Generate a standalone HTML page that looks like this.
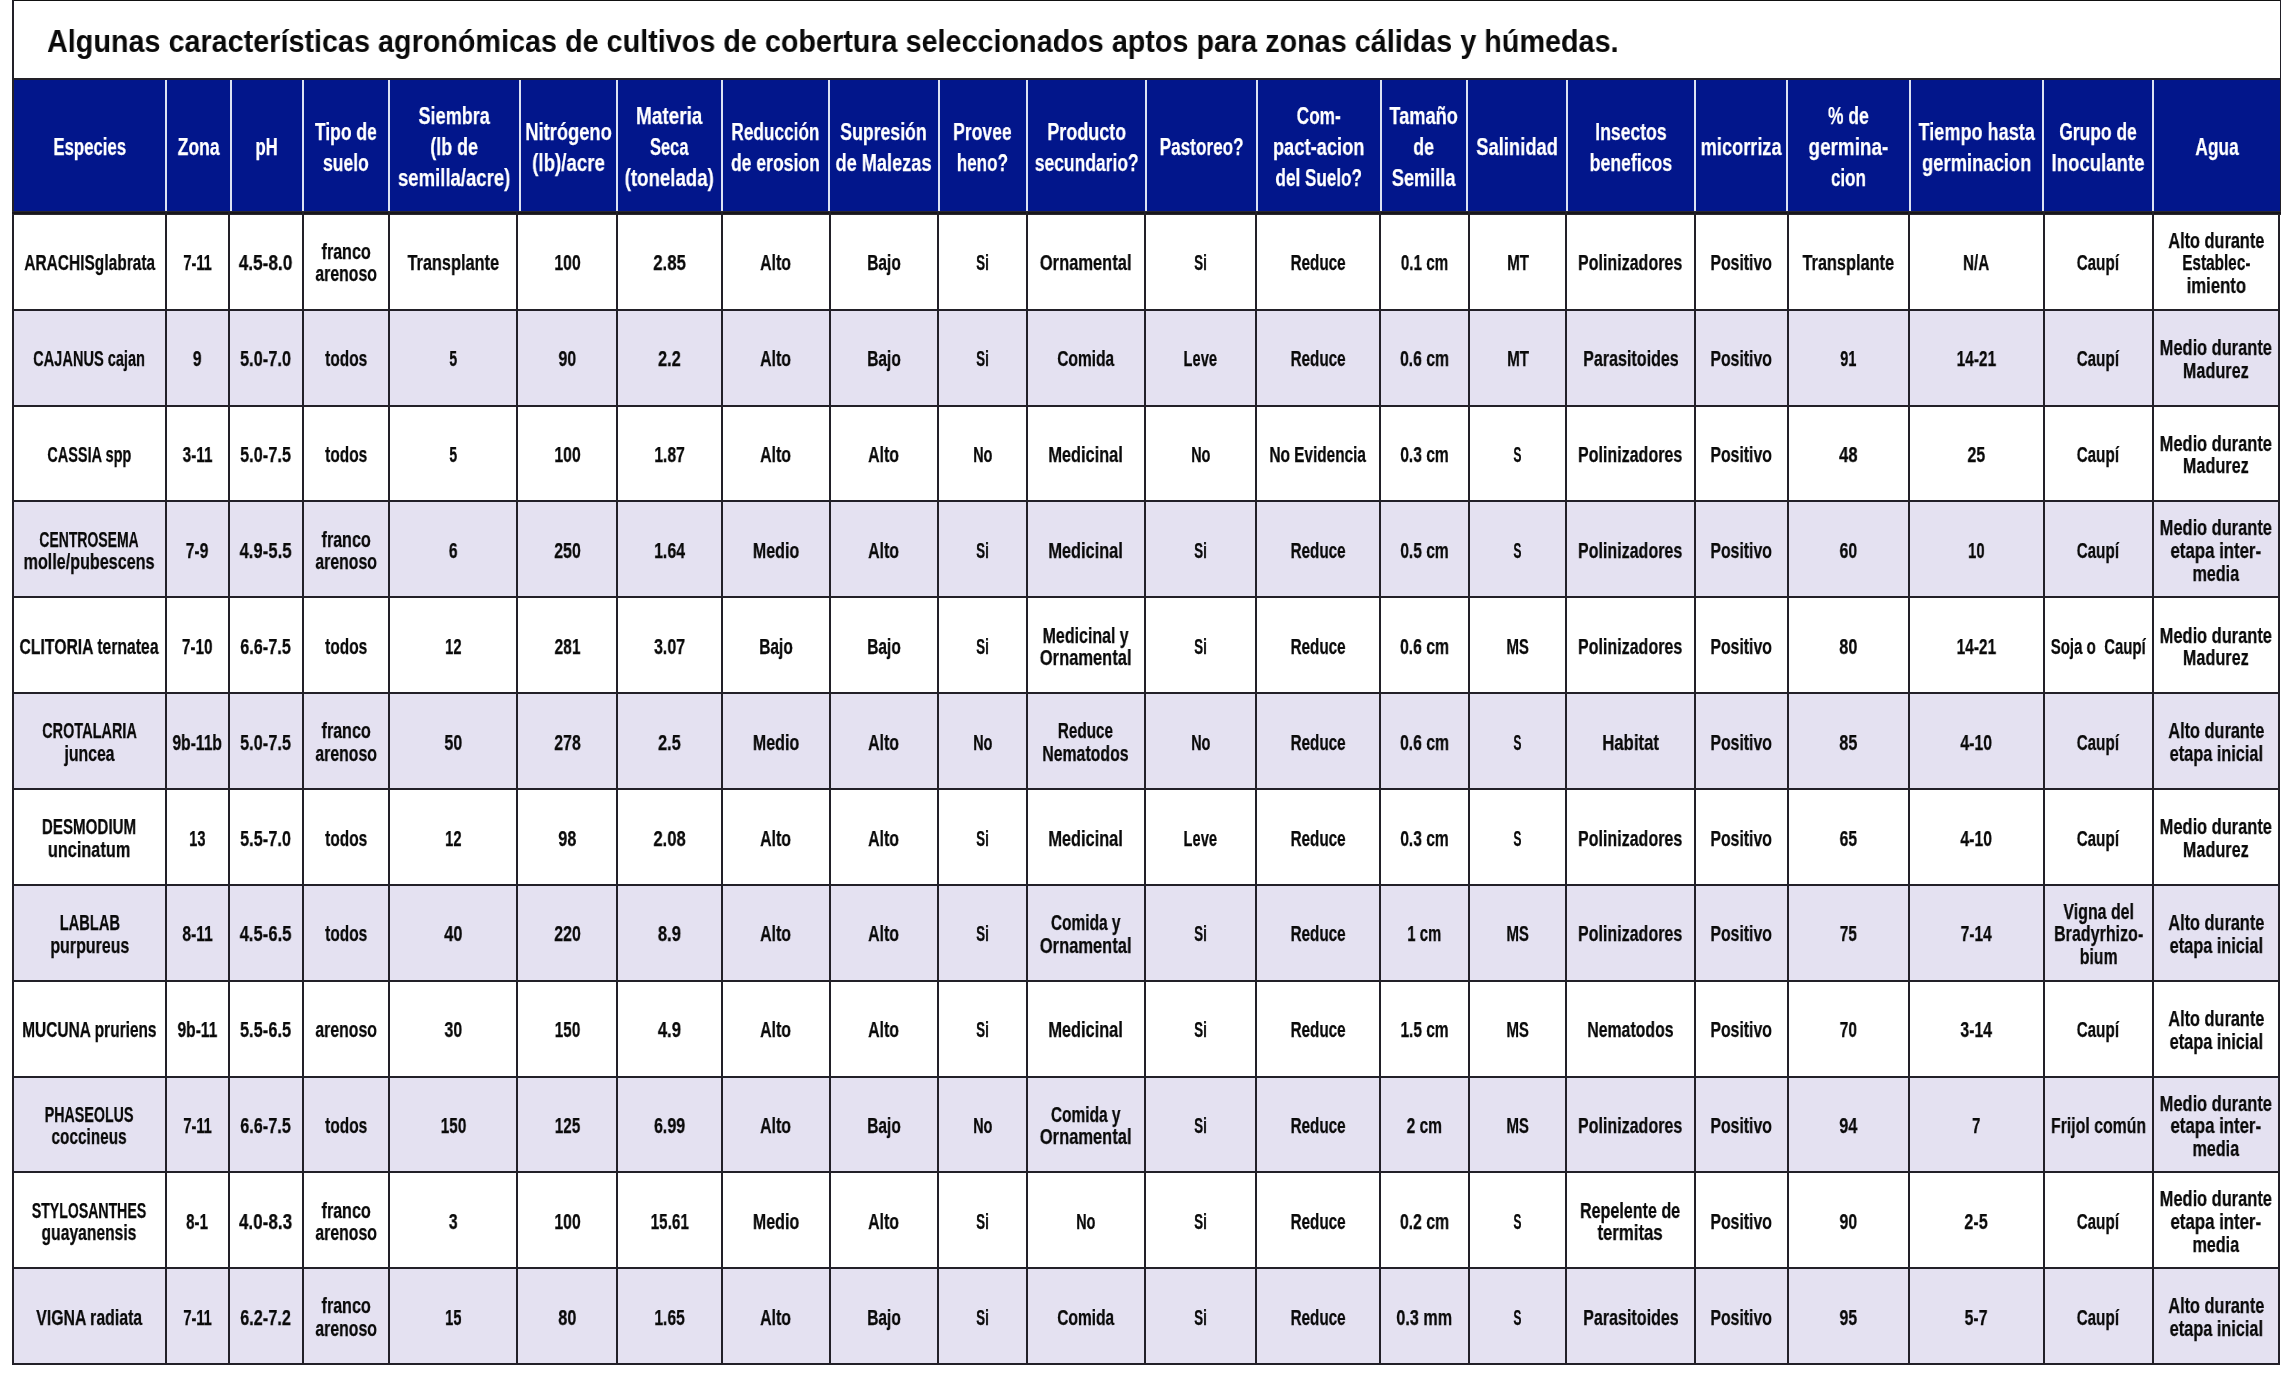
<!DOCTYPE html>
<html><head><meta charset="utf-8"><title>Cultivos de cobertura</title>
<style>
html,body{margin:0;padding:0;background:#fff;}
body{width:2291px;height:1376px;position:relative;overflow:hidden;font-family:"Liberation Sans",sans-serif;}
.a{position:absolute;}
.ln{position:absolute;background:#222028;}
.wl{position:absolute;background:#dce2f3;}
.c{position:absolute;display:flex;align-items:center;justify-content:center;}
.t{display:block;will-change:transform;-webkit-text-stroke:0.25px currentColor;white-space:nowrap;text-align:center;font-weight:bold;}
.b .t{font-size:22.2px;line-height:22.6px;color:#0a0a0a;}
.h .t{font-size:24.8px;line-height:31.2px;color:#fff;}
.title{position:absolute;will-change:transform;left:47px;top:21.2px;font-size:31.6px;font-weight:bold;white-space:nowrap;transform-origin:0 0;transform:scaleX(0.9105);color:#0a0a0a;line-height:40px;}
</style></head><body>

<div class="title">Algunas características agronómicas de cultivos de cobertura seleccionados aptos para zonas cálidas y húmedas.</div>
<div class="a" style="left:13px;top:80px;width:2267px;height:131px;background:#02168b"></div>
<div class="a" style="left:13px;top:309.8px;width:2266px;height:95.9px;background:#e4e1f1"></div>
<div class="a" style="left:13px;top:501.4px;width:2266px;height:95.8px;background:#e4e1f1"></div>
<div class="a" style="left:13px;top:693.1px;width:2266px;height:95.9px;background:#e4e1f1"></div>
<div class="a" style="left:13px;top:884.8px;width:2266px;height:95.9px;background:#e4e1f1"></div>
<div class="a" style="left:13px;top:1076.5px;width:2266px;height:95.9px;background:#e4e1f1"></div>
<div class="a" style="left:13px;top:1268.2px;width:2266px;height:95.8px;background:#e4e1f1"></div>
<div class="wl" style="left:164.7px;top:80px;width:2px;height:131px"></div>
<div class="wl" style="left:229.8px;top:80px;width:2px;height:131px"></div>
<div class="wl" style="left:301.9px;top:80px;width:2px;height:131px"></div>
<div class="wl" style="left:387.9px;top:80px;width:2px;height:131px"></div>
<div class="wl" style="left:518.6px;top:80px;width:2px;height:131px"></div>
<div class="wl" style="left:616.1px;top:80px;width:2px;height:131px"></div>
<div class="wl" style="left:720.8px;top:80px;width:2px;height:131px"></div>
<div class="wl" style="left:827.9px;top:80px;width:2px;height:131px"></div>
<div class="wl" style="left:937.5px;top:80px;width:2px;height:131px"></div>
<div class="wl" style="left:1026.0px;top:80px;width:2px;height:131px"></div>
<div class="wl" style="left:1144.5px;top:80px;width:2px;height:131px"></div>
<div class="wl" style="left:1256.3px;top:80px;width:2px;height:131px"></div>
<div class="wl" style="left:1379.5px;top:80px;width:2px;height:131px"></div>
<div class="wl" style="left:1465.8px;top:80px;width:2px;height:131px"></div>
<div class="wl" style="left:1565.8px;top:80px;width:2px;height:131px"></div>
<div class="wl" style="left:1693.8px;top:80px;width:2px;height:131px"></div>
<div class="wl" style="left:1786.0px;top:80px;width:2px;height:131px"></div>
<div class="wl" style="left:1909.0px;top:80px;width:2px;height:131px"></div>
<div class="wl" style="left:2041.9px;top:80px;width:2px;height:131px"></div>
<div class="wl" style="left:2152.2px;top:80px;width:2px;height:131px"></div>
<div class="ln" style="left:12px;top:0;width:2269px;height:1px;background:#111"></div>
<div class="ln" style="left:12px;top:0;width:2px;height:1365px"></div>
<div class="ln" style="left:2280px;top:0;width:1px;height:215px"></div>
<div class="ln" style="left:2278px;top:212px;width:2px;height:1153px"></div>
<div class="ln" style="left:12px;top:78px;width:2269px;height:2px"></div>
<div class="ln" style="left:12px;top:211px;width:2269px;height:4px;background:#2a282e"></div>
<div class="ln" style="left:12px;top:212px;width:2269px;height:2px;background:#18161c"></div>
<div class="ln" style="left:12px;top:309px;width:2268px;height:2px"></div>
<div class="ln" style="left:12px;top:405px;width:2268px;height:2px"></div>
<div class="ln" style="left:12px;top:500px;width:2268px;height:2px"></div>
<div class="ln" style="left:12px;top:596px;width:2268px;height:2px"></div>
<div class="ln" style="left:12px;top:692px;width:2268px;height:2px"></div>
<div class="ln" style="left:12px;top:788px;width:2268px;height:2px"></div>
<div class="ln" style="left:12px;top:884px;width:2268px;height:2px"></div>
<div class="ln" style="left:12px;top:980px;width:2268px;height:2px"></div>
<div class="ln" style="left:12px;top:1076px;width:2268px;height:2px"></div>
<div class="ln" style="left:12px;top:1171px;width:2268px;height:2px"></div>
<div class="ln" style="left:12px;top:1267px;width:2268px;height:2px"></div>
<div class="ln" style="left:12px;top:1363px;width:2268px;height:2px"></div>
<div class="ln" style="left:164.8px;top:212px;width:2px;height:1152px"></div>
<div class="ln" style="left:227.7px;top:212px;width:2px;height:1152px"></div>
<div class="ln" style="left:301.9px;top:212px;width:2px;height:1152px"></div>
<div class="ln" style="left:387.9px;top:212px;width:2px;height:1152px"></div>
<div class="ln" style="left:516.4px;top:212px;width:2px;height:1152px"></div>
<div class="ln" style="left:616.1px;top:212px;width:2px;height:1152px"></div>
<div class="ln" style="left:721.4px;top:212px;width:2px;height:1152px"></div>
<div class="ln" style="left:828.7px;top:212px;width:2px;height:1152px"></div>
<div class="ln" style="left:936.7px;top:212px;width:2px;height:1152px"></div>
<div class="ln" style="left:1026.0px;top:212px;width:2px;height:1152px"></div>
<div class="ln" style="left:1143.7px;top:212px;width:2px;height:1152px"></div>
<div class="ln" style="left:1255.0px;top:212px;width:2px;height:1152px"></div>
<div class="ln" style="left:1379.0px;top:212px;width:2px;height:1152px"></div>
<div class="ln" style="left:1467.9px;top:212px;width:2px;height:1152px"></div>
<div class="ln" style="left:1565.2px;top:212px;width:2px;height:1152px"></div>
<div class="ln" style="left:1693.8px;top:212px;width:2px;height:1152px"></div>
<div class="ln" style="left:1786.7px;top:212px;width:2px;height:1152px"></div>
<div class="ln" style="left:1908.0px;top:212px;width:2px;height:1152px"></div>
<div class="ln" style="left:2042.5px;top:212px;width:2px;height:1152px"></div>
<div class="ln" style="left:2152.0px;top:212px;width:2px;height:1152px"></div>
<div class="c h" style="left:14.0px;top:81.3px;width:150.7px;height:131.0px"><div><span class="t" style="transform:scaleX(0.6761)">Especies</span></div></div>
<div class="c h" style="left:166.7px;top:81.3px;width:63.1px;height:131.0px"><div><span class="t" style="transform:scaleX(0.7068)">Zona</span></div></div>
<div class="c h" style="left:231.8px;top:81.3px;width:70.1px;height:131.0px"><div><span class="t" style="transform:scaleX(0.6715)">pH</span></div></div>
<div class="c h" style="left:303.9px;top:81.3px;width:84.0px;height:131.0px"><div><span class="t" style="transform:scaleX(0.7045)">Tipo de</span><span class="t" style="transform:scaleX(0.7070)">suelo</span></div></div>
<div class="c h" style="left:389.9px;top:81.3px;width:128.7px;height:131.0px"><div><span class="t" style="transform:scaleX(0.7293)">Siembra</span><span class="t" style="transform:scaleX(0.7212)">(lb de</span><span class="t" style="transform:scaleX(0.7479)">semilla/acre)</span></div></div>
<div class="c h" style="left:520.6px;top:81.3px;width:95.5px;height:131.0px"><div><span class="t" style="transform:scaleX(0.7386)">Nitrógeno</span><span class="t" style="transform:scaleX(0.7546)">(lb)/acre</span></div></div>
<div class="c h" style="left:618.1px;top:81.3px;width:102.7px;height:131.0px"><div><span class="t" style="transform:scaleX(0.7644)">Materia</span><span class="t" style="transform:scaleX(0.6629)">Seca</span><span class="t" style="transform:scaleX(0.7519)">(tonelada)</span></div></div>
<div class="c h" style="left:722.8px;top:81.3px;width:105.1px;height:131.0px"><div><span class="t" style="transform:scaleX(0.6957)">Reducción</span><span class="t" style="transform:scaleX(0.7089)">de erosion</span></div></div>
<div class="c h" style="left:829.9px;top:81.3px;width:107.6px;height:131.0px"><div><span class="t" style="transform:scaleX(0.7124)">Supresión</span><span class="t" style="transform:scaleX(0.7324)">de Malezas</span></div></div>
<div class="c h" style="left:939.5px;top:81.3px;width:86.5px;height:131.0px"><div><span class="t" style="transform:scaleX(0.7085)">Provee</span><span class="t" style="transform:scaleX(0.6868)">heno?</span></div></div>
<div class="c h" style="left:1028.0px;top:81.3px;width:116.5px;height:131.0px"><div><span class="t" style="transform:scaleX(0.7240)">Producto</span><span class="t" style="transform:scaleX(0.7039)">secundario?</span></div></div>
<div class="c h" style="left:1146.5px;top:81.3px;width:109.8px;height:131.0px"><div><span class="t" style="transform:scaleX(0.6918)">Pastoreo?</span></div></div>
<div class="c h" style="left:1258.3px;top:81.3px;width:121.2px;height:131.0px"><div><span class="t" style="transform:scaleX(0.6960)">Com-</span><span class="t" style="transform:scaleX(0.7386)">pact-acion</span><span class="t" style="transform:scaleX(0.6899)">del Suelo?</span></div></div>
<div class="c h" style="left:1381.5px;top:81.3px;width:84.3px;height:131.0px"><div><span class="t" style="transform:scaleX(0.7346)">Tamaño</span><span class="t" style="transform:scaleX(0.7256)">de</span><span class="t" style="transform:scaleX(0.7331)">Semilla</span></div></div>
<div class="c h" style="left:1467.8px;top:81.3px;width:98.0px;height:131.0px"><div><span class="t" style="transform:scaleX(0.7420)">Salinidad</span></div></div>
<div class="c h" style="left:1567.8px;top:81.3px;width:126.0px;height:131.0px"><div><span class="t" style="transform:scaleX(0.7077)">Insectos</span><span class="t" style="transform:scaleX(0.7118)">beneficos</span></div></div>
<div class="c h" style="left:1695.8px;top:81.3px;width:90.2px;height:131.0px"><div><span class="t" style="transform:scaleX(0.7335)">micorriza</span></div></div>
<div class="c h" style="left:1788.0px;top:81.3px;width:121.0px;height:131.0px"><div><span class="t" style="transform:scaleX(0.7049)">% de</span><span class="t" style="transform:scaleX(0.7610)">germina-</span><span class="t" style="transform:scaleX(0.6864)">cion</span></div></div>
<div class="c h" style="left:1911.0px;top:81.3px;width:130.9px;height:131.0px"><div><span class="t" style="transform:scaleX(0.7300)">Tiempo hasta</span><span class="t" style="transform:scaleX(0.7426)">germinacion</span></div></div>
<div class="c h" style="left:2043.9px;top:81.3px;width:108.3px;height:131.0px"><div><span class="t" style="transform:scaleX(0.7041)">Grupo de</span><span class="t" style="transform:scaleX(0.7490)">Inoculante</span></div></div>
<div class="c h" style="left:2154.2px;top:81.3px;width:124.8px;height:131.0px"><div><span class="t" style="transform:scaleX(0.6997)">Agua</span></div></div>
<div class="c b" style="left:14.0px;top:216.0px;width:150.8px;height:94.8px"><div><span class="t" style="transform:scaleX(0.6986)">ARACHISglabrata</span></div></div>
<div class="c b" style="left:166.8px;top:216.0px;width:60.9px;height:94.8px"><div><span class="t" style="transform:scaleX(0.6574)">7-11</span></div></div>
<div class="c b" style="left:229.7px;top:216.0px;width:72.2px;height:94.8px"><div><span class="t" style="transform:scaleX(0.7770)">4.5-8.0</span></div></div>
<div class="c b" style="left:303.9px;top:216.0px;width:84.0px;height:94.8px"><div><span class="t" style="transform:scaleX(0.7267)">franco</span><span class="t" style="transform:scaleX(0.7122)">arenoso</span></div></div>
<div class="c b" style="left:389.9px;top:216.0px;width:126.5px;height:94.8px"><div><span class="t" style="transform:scaleX(0.7351)">Transplante</span></div></div>
<div class="c b" style="left:518.4px;top:216.0px;width:97.7px;height:94.8px"><div><span class="t" style="transform:scaleX(0.7075)">100</span></div></div>
<div class="c b" style="left:618.1px;top:216.0px;width:103.3px;height:94.8px"><div><span class="t" style="transform:scaleX(0.7569)">2.85</span></div></div>
<div class="c b" style="left:723.4px;top:216.0px;width:105.3px;height:94.8px"><div><span class="t" style="transform:scaleX(0.7183)">Alto</span></div></div>
<div class="c b" style="left:830.7px;top:216.0px;width:106.0px;height:94.8px"><div><span class="t" style="transform:scaleX(0.7026)">Bajo</span></div></div>
<div class="c b" style="left:938.7px;top:216.0px;width:87.3px;height:94.8px"><div><span class="t" style="transform:scaleX(0.6054)">Si</span></div></div>
<div class="c b" style="left:1028.0px;top:216.0px;width:115.7px;height:94.8px"><div><span class="t" style="transform:scaleX(0.7441)">Ornamental</span></div></div>
<div class="c b" style="left:1145.7px;top:216.0px;width:109.3px;height:94.8px"><div><span class="t" style="transform:scaleX(0.6054)">Si</span></div></div>
<div class="c b" style="left:1257.0px;top:216.0px;width:122.0px;height:94.8px"><div><span class="t" style="transform:scaleX(0.6847)">Reduce</span></div></div>
<div class="c b" style="left:1381.0px;top:216.0px;width:86.9px;height:94.8px"><div><span class="t" style="transform:scaleX(0.6859)">0.1 cm</span></div></div>
<div class="c b" style="left:1469.9px;top:216.0px;width:95.3px;height:94.8px"><div><span class="t" style="transform:scaleX(0.6800)">MT</span></div></div>
<div class="c b" style="left:1567.2px;top:216.0px;width:126.6px;height:94.8px"><div><span class="t" style="transform:scaleX(0.7227)">Polinizadores</span></div></div>
<div class="c b" style="left:1695.8px;top:216.0px;width:90.9px;height:94.8px"><div><span class="t" style="transform:scaleX(0.7110)">Positivo</span></div></div>
<div class="c b" style="left:1788.7px;top:216.0px;width:119.3px;height:94.8px"><div><span class="t" style="transform:scaleX(0.7351)">Transplante</span></div></div>
<div class="c b" style="left:1910.0px;top:216.0px;width:132.5px;height:94.8px"><div><span class="t" style="transform:scaleX(0.6854)">N/A</span></div></div>
<div class="c b" style="left:2044.5px;top:216.0px;width:107.5px;height:94.8px"><div><span class="t" style="transform:scaleX(0.6841)">Caupí</span></div></div>
<div class="c b" style="left:2154.0px;top:216.0px;width:124.0px;height:94.8px"><div><span class="t" style="transform:scaleX(0.7351)">Alto durante</span><span class="t" style="transform:scaleX(0.6910)">Establec-</span><span class="t" style="transform:scaleX(0.7537)">imiento</span></div></div>
<div class="c b" style="left:14.0px;top:312.8px;width:150.8px;height:93.9px"><div><span class="t" style="transform:scaleX(0.6578)">CAJANUS cajan</span></div></div>
<div class="c b" style="left:166.8px;top:312.8px;width:60.9px;height:93.9px"><div><span class="t" style="transform:scaleX(0.7071)">9</span></div></div>
<div class="c b" style="left:229.7px;top:312.8px;width:72.2px;height:93.9px"><div><span class="t" style="transform:scaleX(0.7391)">5.0-7.0</span></div></div>
<div class="c b" style="left:303.9px;top:312.8px;width:84.0px;height:93.9px"><div><span class="t" style="transform:scaleX(0.6983)">todos</span></div></div>
<div class="c b" style="left:389.9px;top:312.8px;width:126.5px;height:93.9px"><div><span class="t" style="transform:scaleX(0.6400)">5</span></div></div>
<div class="c b" style="left:518.4px;top:312.8px;width:97.7px;height:93.9px"><div><span class="t" style="transform:scaleX(0.7129)">90</span></div></div>
<div class="c b" style="left:618.1px;top:312.8px;width:103.3px;height:93.9px"><div><span class="t" style="transform:scaleX(0.7421)">2.2</span></div></div>
<div class="c b" style="left:723.4px;top:312.8px;width:105.3px;height:93.9px"><div><span class="t" style="transform:scaleX(0.7183)">Alto</span></div></div>
<div class="c b" style="left:830.7px;top:312.8px;width:106.0px;height:93.9px"><div><span class="t" style="transform:scaleX(0.7026)">Bajo</span></div></div>
<div class="c b" style="left:938.7px;top:312.8px;width:87.3px;height:93.9px"><div><span class="t" style="transform:scaleX(0.6054)">Si</span></div></div>
<div class="c b" style="left:1028.0px;top:312.8px;width:115.7px;height:93.9px"><div><span class="t" style="transform:scaleX(0.7001)">Comida</span></div></div>
<div class="c b" style="left:1145.7px;top:312.8px;width:109.3px;height:93.9px"><div><span class="t" style="transform:scaleX(0.6621)">Leve</span></div></div>
<div class="c b" style="left:1257.0px;top:312.8px;width:122.0px;height:93.9px"><div><span class="t" style="transform:scaleX(0.6847)">Reduce</span></div></div>
<div class="c b" style="left:1381.0px;top:312.8px;width:86.9px;height:93.9px"><div><span class="t" style="transform:scaleX(0.7112)">0.6 cm</span></div></div>
<div class="c b" style="left:1469.9px;top:312.8px;width:95.3px;height:93.9px"><div><span class="t" style="transform:scaleX(0.6800)">MT</span></div></div>
<div class="c b" style="left:1567.2px;top:312.8px;width:126.6px;height:93.9px"><div><span class="t" style="transform:scaleX(0.7246)">Parasitoides</span></div></div>
<div class="c b" style="left:1695.8px;top:312.8px;width:90.9px;height:93.9px"><div><span class="t" style="transform:scaleX(0.7110)">Positivo</span></div></div>
<div class="c b" style="left:1788.7px;top:312.8px;width:119.3px;height:93.9px"><div><span class="t" style="transform:scaleX(0.6674)">91</span></div></div>
<div class="c b" style="left:1910.0px;top:312.8px;width:132.5px;height:93.9px"><div><span class="t" style="transform:scaleX(0.6944)">14-21</span></div></div>
<div class="c b" style="left:2044.5px;top:312.8px;width:107.5px;height:93.9px"><div><span class="t" style="transform:scaleX(0.6841)">Caupí</span></div></div>
<div class="c b" style="left:2154.0px;top:312.8px;width:124.0px;height:93.9px"><div><span class="t" style="transform:scaleX(0.7402)">Medio durante</span><span class="t" style="transform:scaleX(0.7320)">Madurez</span></div></div>
<div class="c b" style="left:14.0px;top:408.6px;width:150.8px;height:93.8px"><div><span class="t" style="transform:scaleX(0.6527)">CASSIA spp</span></div></div>
<div class="c b" style="left:166.8px;top:408.6px;width:60.9px;height:93.8px"><div><span class="t" style="transform:scaleX(0.6921)">3-11</span></div></div>
<div class="c b" style="left:229.7px;top:408.6px;width:72.2px;height:93.8px"><div><span class="t" style="transform:scaleX(0.7376)">5.0-7.5</span></div></div>
<div class="c b" style="left:303.9px;top:408.6px;width:84.0px;height:93.8px"><div><span class="t" style="transform:scaleX(0.6983)">todos</span></div></div>
<div class="c b" style="left:389.9px;top:408.6px;width:126.5px;height:93.8px"><div><span class="t" style="transform:scaleX(0.6400)">5</span></div></div>
<div class="c b" style="left:518.4px;top:408.6px;width:97.7px;height:93.8px"><div><span class="t" style="transform:scaleX(0.7075)">100</span></div></div>
<div class="c b" style="left:618.1px;top:408.6px;width:103.3px;height:93.8px"><div><span class="t" style="transform:scaleX(0.7076)">1.87</span></div></div>
<div class="c b" style="left:723.4px;top:408.6px;width:105.3px;height:93.8px"><div><span class="t" style="transform:scaleX(0.7183)">Alto</span></div></div>
<div class="c b" style="left:830.7px;top:408.6px;width:106.0px;height:93.8px"><div><span class="t" style="transform:scaleX(0.7183)">Alto</span></div></div>
<div class="c b" style="left:938.7px;top:408.6px;width:87.3px;height:93.8px"><div><span class="t" style="transform:scaleX(0.6488)">No</span></div></div>
<div class="c b" style="left:1028.0px;top:408.6px;width:115.7px;height:93.8px"><div><span class="t" style="transform:scaleX(0.7364)">Medicinal</span></div></div>
<div class="c b" style="left:1145.7px;top:408.6px;width:109.3px;height:93.8px"><div><span class="t" style="transform:scaleX(0.6488)">No</span></div></div>
<div class="c b" style="left:1257.0px;top:408.6px;width:122.0px;height:93.8px"><div><span class="t" style="transform:scaleX(0.6921)">No Evidencia</span></div></div>
<div class="c b" style="left:1381.0px;top:408.6px;width:86.9px;height:93.8px"><div><span class="t" style="transform:scaleX(0.7018)">0.3 cm</span></div></div>
<div class="c b" style="left:1469.9px;top:408.6px;width:95.3px;height:93.8px"><div><span class="t" style="transform:scaleX(0.5403)">S</span></div></div>
<div class="c b" style="left:1567.2px;top:408.6px;width:126.6px;height:93.8px"><div><span class="t" style="transform:scaleX(0.7227)">Polinizadores</span></div></div>
<div class="c b" style="left:1695.8px;top:408.6px;width:90.9px;height:93.8px"><div><span class="t" style="transform:scaleX(0.7110)">Positivo</span></div></div>
<div class="c b" style="left:1788.7px;top:408.6px;width:119.3px;height:93.8px"><div><span class="t" style="transform:scaleX(0.7577)">48</span></div></div>
<div class="c b" style="left:1910.0px;top:408.6px;width:132.5px;height:93.8px"><div><span class="t" style="transform:scaleX(0.7164)">25</span></div></div>
<div class="c b" style="left:2044.5px;top:408.6px;width:107.5px;height:93.8px"><div><span class="t" style="transform:scaleX(0.6841)">Caupí</span></div></div>
<div class="c b" style="left:2154.0px;top:408.6px;width:124.0px;height:93.8px"><div><span class="t" style="transform:scaleX(0.7402)">Medio durante</span><span class="t" style="transform:scaleX(0.7320)">Madurez</span></div></div>
<div class="c b" style="left:14.0px;top:504.4px;width:150.8px;height:93.8px"><div><span class="t" style="transform:scaleX(0.6303)">CENTROSEMA</span><span class="t" style="transform:scaleX(0.7272)">molle/pubescens</span></div></div>
<div class="c b" style="left:166.8px;top:504.4px;width:60.9px;height:93.8px"><div><span class="t" style="transform:scaleX(0.7045)">7-9</span></div></div>
<div class="c b" style="left:229.7px;top:504.4px;width:72.2px;height:93.8px"><div><span class="t" style="transform:scaleX(0.7539)">4.9-5.5</span></div></div>
<div class="c b" style="left:303.9px;top:504.4px;width:84.0px;height:93.8px"><div><span class="t" style="transform:scaleX(0.7267)">franco</span><span class="t" style="transform:scaleX(0.7122)">arenoso</span></div></div>
<div class="c b" style="left:389.9px;top:504.4px;width:126.5px;height:93.8px"><div><span class="t" style="transform:scaleX(0.7050)">6</span></div></div>
<div class="c b" style="left:518.4px;top:504.4px;width:97.7px;height:93.8px"><div><span class="t" style="transform:scaleX(0.7190)">250</span></div></div>
<div class="c b" style="left:618.1px;top:504.4px;width:103.3px;height:93.8px"><div><span class="t" style="transform:scaleX(0.7191)">1.64</span></div></div>
<div class="c b" style="left:723.4px;top:504.4px;width:105.3px;height:93.8px"><div><span class="t" style="transform:scaleX(0.7240)">Medio</span></div></div>
<div class="c b" style="left:830.7px;top:504.4px;width:106.0px;height:93.8px"><div><span class="t" style="transform:scaleX(0.7183)">Alto</span></div></div>
<div class="c b" style="left:938.7px;top:504.4px;width:87.3px;height:93.8px"><div><span class="t" style="transform:scaleX(0.6054)">Si</span></div></div>
<div class="c b" style="left:1028.0px;top:504.4px;width:115.7px;height:93.8px"><div><span class="t" style="transform:scaleX(0.7364)">Medicinal</span></div></div>
<div class="c b" style="left:1145.7px;top:504.4px;width:109.3px;height:93.8px"><div><span class="t" style="transform:scaleX(0.6054)">Si</span></div></div>
<div class="c b" style="left:1257.0px;top:504.4px;width:122.0px;height:93.8px"><div><span class="t" style="transform:scaleX(0.6847)">Reduce</span></div></div>
<div class="c b" style="left:1381.0px;top:504.4px;width:86.9px;height:93.8px"><div><span class="t" style="transform:scaleX(0.7003)">0.5 cm</span></div></div>
<div class="c b" style="left:1469.9px;top:504.4px;width:95.3px;height:93.8px"><div><span class="t" style="transform:scaleX(0.5403)">S</span></div></div>
<div class="c b" style="left:1567.2px;top:504.4px;width:126.6px;height:93.8px"><div><span class="t" style="transform:scaleX(0.7227)">Polinizadores</span></div></div>
<div class="c b" style="left:1695.8px;top:504.4px;width:90.9px;height:93.8px"><div><span class="t" style="transform:scaleX(0.7110)">Positivo</span></div></div>
<div class="c b" style="left:1788.7px;top:504.4px;width:119.3px;height:93.8px"><div><span class="t" style="transform:scaleX(0.7145)">60</span></div></div>
<div class="c b" style="left:1910.0px;top:504.4px;width:132.5px;height:93.8px"><div><span class="t" style="transform:scaleX(0.6759)">10</span></div></div>
<div class="c b" style="left:2044.5px;top:504.4px;width:107.5px;height:93.8px"><div><span class="t" style="transform:scaleX(0.6841)">Caupí</span></div></div>
<div class="c b" style="left:2154.0px;top:504.4px;width:124.0px;height:93.8px"><div><span class="t" style="transform:scaleX(0.7402)">Medio durante</span><span class="t" style="transform:scaleX(0.7580)">etapa inter-</span><span class="t" style="transform:scaleX(0.7277)">media</span></div></div>
<div class="c b" style="left:14.0px;top:600.3px;width:150.8px;height:93.9px"><div><span class="t" style="transform:scaleX(0.7091)">CLITORIA ternatea</span></div></div>
<div class="c b" style="left:166.8px;top:600.3px;width:60.9px;height:93.9px"><div><span class="t" style="transform:scaleX(0.6903)">7-10</span></div></div>
<div class="c b" style="left:229.7px;top:600.3px;width:72.2px;height:93.9px"><div><span class="t" style="transform:scaleX(0.7323)">6.6-7.5</span></div></div>
<div class="c b" style="left:303.9px;top:600.3px;width:84.0px;height:93.9px"><div><span class="t" style="transform:scaleX(0.6983)">todos</span></div></div>
<div class="c b" style="left:389.9px;top:600.3px;width:126.5px;height:93.9px"><div><span class="t" style="transform:scaleX(0.6727)">12</span></div></div>
<div class="c b" style="left:518.4px;top:600.3px;width:97.7px;height:93.9px"><div><span class="t" style="transform:scaleX(0.6993)">281</span></div></div>
<div class="c b" style="left:618.1px;top:600.3px;width:103.3px;height:93.9px"><div><span class="t" style="transform:scaleX(0.7227)">3.07</span></div></div>
<div class="c b" style="left:723.4px;top:600.3px;width:105.3px;height:93.9px"><div><span class="t" style="transform:scaleX(0.7026)">Bajo</span></div></div>
<div class="c b" style="left:830.7px;top:600.3px;width:106.0px;height:93.9px"><div><span class="t" style="transform:scaleX(0.7026)">Bajo</span></div></div>
<div class="c b" style="left:938.7px;top:600.3px;width:87.3px;height:93.9px"><div><span class="t" style="transform:scaleX(0.6054)">Si</span></div></div>
<div class="c b" style="left:1028.0px;top:600.3px;width:115.7px;height:93.9px"><div><span class="t" style="transform:scaleX(0.7194)">Medicinal y</span><span class="t" style="transform:scaleX(0.7441)">Ornamental</span></div></div>
<div class="c b" style="left:1145.7px;top:600.3px;width:109.3px;height:93.9px"><div><span class="t" style="transform:scaleX(0.6054)">Si</span></div></div>
<div class="c b" style="left:1257.0px;top:600.3px;width:122.0px;height:93.9px"><div><span class="t" style="transform:scaleX(0.6847)">Reduce</span></div></div>
<div class="c b" style="left:1381.0px;top:600.3px;width:86.9px;height:93.9px"><div><span class="t" style="transform:scaleX(0.7112)">0.6 cm</span></div></div>
<div class="c b" style="left:1469.9px;top:600.3px;width:95.3px;height:93.9px"><div><span class="t" style="transform:scaleX(0.6708)">MS</span></div></div>
<div class="c b" style="left:1567.2px;top:600.3px;width:126.6px;height:93.9px"><div><span class="t" style="transform:scaleX(0.7227)">Polinizadores</span></div></div>
<div class="c b" style="left:1695.8px;top:600.3px;width:90.9px;height:93.9px"><div><span class="t" style="transform:scaleX(0.7110)">Positivo</span></div></div>
<div class="c b" style="left:1788.7px;top:600.3px;width:119.3px;height:93.9px"><div><span class="t" style="transform:scaleX(0.7383)">80</span></div></div>
<div class="c b" style="left:1910.0px;top:600.3px;width:132.5px;height:93.9px"><div><span class="t" style="transform:scaleX(0.6944)">14-21</span></div></div>
<div class="c b" style="left:2044.5px;top:600.3px;width:107.5px;height:93.9px"><div><span class="t" style="transform:scaleX(0.6756)">Soja o  Caupí</span></div></div>
<div class="c b" style="left:2154.0px;top:600.3px;width:124.0px;height:93.9px"><div><span class="t" style="transform:scaleX(0.7402)">Medio durante</span><span class="t" style="transform:scaleX(0.7320)">Madurez</span></div></div>
<div class="c b" style="left:14.0px;top:696.1px;width:150.8px;height:93.9px"><div><span class="t" style="transform:scaleX(0.6537)">CROTALARIA</span><span class="t" style="transform:scaleX(0.7113)">juncea</span></div></div>
<div class="c b" style="left:166.8px;top:696.1px;width:60.9px;height:93.9px"><div><span class="t" style="transform:scaleX(0.7014)">9b-11b</span></div></div>
<div class="c b" style="left:229.7px;top:696.1px;width:72.2px;height:93.9px"><div><span class="t" style="transform:scaleX(0.7376)">5.0-7.5</span></div></div>
<div class="c b" style="left:303.9px;top:696.1px;width:84.0px;height:93.9px"><div><span class="t" style="transform:scaleX(0.7267)">franco</span><span class="t" style="transform:scaleX(0.7122)">arenoso</span></div></div>
<div class="c b" style="left:389.9px;top:696.1px;width:126.5px;height:93.9px"><div><span class="t" style="transform:scaleX(0.7197)">50</span></div></div>
<div class="c b" style="left:518.4px;top:696.1px;width:97.7px;height:93.9px"><div><span class="t" style="transform:scaleX(0.7151)">278</span></div></div>
<div class="c b" style="left:618.1px;top:696.1px;width:103.3px;height:93.9px"><div><span class="t" style="transform:scaleX(0.7416)">2.5</span></div></div>
<div class="c b" style="left:723.4px;top:696.1px;width:105.3px;height:93.9px"><div><span class="t" style="transform:scaleX(0.7240)">Medio</span></div></div>
<div class="c b" style="left:830.7px;top:696.1px;width:106.0px;height:93.9px"><div><span class="t" style="transform:scaleX(0.7183)">Alto</span></div></div>
<div class="c b" style="left:938.7px;top:696.1px;width:87.3px;height:93.9px"><div><span class="t" style="transform:scaleX(0.6488)">No</span></div></div>
<div class="c b" style="left:1028.0px;top:696.1px;width:115.7px;height:93.9px"><div><span class="t" style="transform:scaleX(0.6847)">Reduce</span><span class="t" style="transform:scaleX(0.7139)">Nematodos</span></div></div>
<div class="c b" style="left:1145.7px;top:696.1px;width:109.3px;height:93.9px"><div><span class="t" style="transform:scaleX(0.6488)">No</span></div></div>
<div class="c b" style="left:1257.0px;top:696.1px;width:122.0px;height:93.9px"><div><span class="t" style="transform:scaleX(0.6847)">Reduce</span></div></div>
<div class="c b" style="left:1381.0px;top:696.1px;width:86.9px;height:93.9px"><div><span class="t" style="transform:scaleX(0.7112)">0.6 cm</span></div></div>
<div class="c b" style="left:1469.9px;top:696.1px;width:95.3px;height:93.9px"><div><span class="t" style="transform:scaleX(0.5403)">S</span></div></div>
<div class="c b" style="left:1567.2px;top:696.1px;width:126.6px;height:93.9px"><div><span class="t" style="transform:scaleX(0.7542)">Habitat</span></div></div>
<div class="c b" style="left:1695.8px;top:696.1px;width:90.9px;height:93.9px"><div><span class="t" style="transform:scaleX(0.7110)">Positivo</span></div></div>
<div class="c b" style="left:1788.7px;top:696.1px;width:119.3px;height:93.9px"><div><span class="t" style="transform:scaleX(0.7339)">85</span></div></div>
<div class="c b" style="left:1910.0px;top:696.1px;width:132.5px;height:93.9px"><div><span class="t" style="transform:scaleX(0.7147)">4-10</span></div></div>
<div class="c b" style="left:2044.5px;top:696.1px;width:107.5px;height:93.9px"><div><span class="t" style="transform:scaleX(0.6841)">Caupí</span></div></div>
<div class="c b" style="left:2154.0px;top:696.1px;width:124.0px;height:93.9px"><div><span class="t" style="transform:scaleX(0.7351)">Alto durante</span><span class="t" style="transform:scaleX(0.7349)">etapa inicial</span></div></div>
<div class="c b" style="left:14.0px;top:792.0px;width:150.8px;height:93.8px"><div><span class="t" style="transform:scaleX(0.6822)">DESMODIUM</span><span class="t" style="transform:scaleX(0.7356)">uncinatum</span></div></div>
<div class="c b" style="left:166.8px;top:792.0px;width:60.9px;height:93.8px"><div><span class="t" style="transform:scaleX(0.6684)">13</span></div></div>
<div class="c b" style="left:229.7px;top:792.0px;width:72.2px;height:93.8px"><div><span class="t" style="transform:scaleX(0.7376)">5.5-7.0</span></div></div>
<div class="c b" style="left:303.9px;top:792.0px;width:84.0px;height:93.8px"><div><span class="t" style="transform:scaleX(0.6983)">todos</span></div></div>
<div class="c b" style="left:389.9px;top:792.0px;width:126.5px;height:93.8px"><div><span class="t" style="transform:scaleX(0.6727)">12</span></div></div>
<div class="c b" style="left:518.4px;top:792.0px;width:97.7px;height:93.8px"><div><span class="t" style="transform:scaleX(0.7298)">98</span></div></div>
<div class="c b" style="left:618.1px;top:792.0px;width:103.3px;height:93.8px"><div><span class="t" style="transform:scaleX(0.7472)">2.08</span></div></div>
<div class="c b" style="left:723.4px;top:792.0px;width:105.3px;height:93.8px"><div><span class="t" style="transform:scaleX(0.7183)">Alto</span></div></div>
<div class="c b" style="left:830.7px;top:792.0px;width:106.0px;height:93.8px"><div><span class="t" style="transform:scaleX(0.7183)">Alto</span></div></div>
<div class="c b" style="left:938.7px;top:792.0px;width:87.3px;height:93.8px"><div><span class="t" style="transform:scaleX(0.6054)">Si</span></div></div>
<div class="c b" style="left:1028.0px;top:792.0px;width:115.7px;height:93.8px"><div><span class="t" style="transform:scaleX(0.7364)">Medicinal</span></div></div>
<div class="c b" style="left:1145.7px;top:792.0px;width:109.3px;height:93.8px"><div><span class="t" style="transform:scaleX(0.6621)">Leve</span></div></div>
<div class="c b" style="left:1257.0px;top:792.0px;width:122.0px;height:93.8px"><div><span class="t" style="transform:scaleX(0.6847)">Reduce</span></div></div>
<div class="c b" style="left:1381.0px;top:792.0px;width:86.9px;height:93.8px"><div><span class="t" style="transform:scaleX(0.7018)">0.3 cm</span></div></div>
<div class="c b" style="left:1469.9px;top:792.0px;width:95.3px;height:93.8px"><div><span class="t" style="transform:scaleX(0.5403)">S</span></div></div>
<div class="c b" style="left:1567.2px;top:792.0px;width:126.6px;height:93.8px"><div><span class="t" style="transform:scaleX(0.7227)">Polinizadores</span></div></div>
<div class="c b" style="left:1695.8px;top:792.0px;width:90.9px;height:93.8px"><div><span class="t" style="transform:scaleX(0.7110)">Positivo</span></div></div>
<div class="c b" style="left:1788.7px;top:792.0px;width:119.3px;height:93.8px"><div><span class="t" style="transform:scaleX(0.7101)">65</span></div></div>
<div class="c b" style="left:1910.0px;top:792.0px;width:132.5px;height:93.8px"><div><span class="t" style="transform:scaleX(0.7147)">4-10</span></div></div>
<div class="c b" style="left:2044.5px;top:792.0px;width:107.5px;height:93.8px"><div><span class="t" style="transform:scaleX(0.6841)">Caupí</span></div></div>
<div class="c b" style="left:2154.0px;top:792.0px;width:124.0px;height:93.8px"><div><span class="t" style="transform:scaleX(0.7402)">Medio durante</span><span class="t" style="transform:scaleX(0.7320)">Madurez</span></div></div>
<div class="c b" style="left:14.0px;top:887.8px;width:150.8px;height:93.9px"><div><span class="t" style="transform:scaleX(0.6599)">LABLAB</span><span class="t" style="transform:scaleX(0.7203)">purpureus</span></div></div>
<div class="c b" style="left:166.8px;top:887.8px;width:60.9px;height:93.9px"><div><span class="t" style="transform:scaleX(0.7045)">8-11</span></div></div>
<div class="c b" style="left:229.7px;top:887.8px;width:72.2px;height:93.9px"><div><span class="t" style="transform:scaleX(0.7499)">4.5-6.5</span></div></div>
<div class="c b" style="left:303.9px;top:887.8px;width:84.0px;height:93.9px"><div><span class="t" style="transform:scaleX(0.6983)">todos</span></div></div>
<div class="c b" style="left:389.9px;top:887.8px;width:126.5px;height:93.9px"><div><span class="t" style="transform:scaleX(0.7434)">40</span></div></div>
<div class="c b" style="left:518.4px;top:887.8px;width:97.7px;height:93.9px"><div><span class="t" style="transform:scaleX(0.7197)">220</span></div></div>
<div class="c b" style="left:618.1px;top:887.8px;width:103.3px;height:93.9px"><div><span class="t" style="transform:scaleX(0.7523)">8.9</span></div></div>
<div class="c b" style="left:723.4px;top:887.8px;width:105.3px;height:93.9px"><div><span class="t" style="transform:scaleX(0.7183)">Alto</span></div></div>
<div class="c b" style="left:830.7px;top:887.8px;width:106.0px;height:93.9px"><div><span class="t" style="transform:scaleX(0.7183)">Alto</span></div></div>
<div class="c b" style="left:938.7px;top:887.8px;width:87.3px;height:93.9px"><div><span class="t" style="transform:scaleX(0.6054)">Si</span></div></div>
<div class="c b" style="left:1028.0px;top:887.8px;width:115.7px;height:93.9px"><div><span class="t" style="transform:scaleX(0.6975)">Comida y</span><span class="t" style="transform:scaleX(0.7441)">Ornamental</span></div></div>
<div class="c b" style="left:1145.7px;top:887.8px;width:109.3px;height:93.9px"><div><span class="t" style="transform:scaleX(0.6054)">Si</span></div></div>
<div class="c b" style="left:1257.0px;top:887.8px;width:122.0px;height:93.9px"><div><span class="t" style="transform:scaleX(0.6847)">Reduce</span></div></div>
<div class="c b" style="left:1381.0px;top:887.8px;width:86.9px;height:93.9px"><div><span class="t" style="transform:scaleX(0.6733)">1 cm</span></div></div>
<div class="c b" style="left:1469.9px;top:887.8px;width:95.3px;height:93.9px"><div><span class="t" style="transform:scaleX(0.6708)">MS</span></div></div>
<div class="c b" style="left:1567.2px;top:887.8px;width:126.6px;height:93.9px"><div><span class="t" style="transform:scaleX(0.7227)">Polinizadores</span></div></div>
<div class="c b" style="left:1695.8px;top:887.8px;width:90.9px;height:93.9px"><div><span class="t" style="transform:scaleX(0.7110)">Positivo</span></div></div>
<div class="c b" style="left:1788.7px;top:887.8px;width:119.3px;height:93.9px"><div><span class="t" style="transform:scaleX(0.6952)">75</span></div></div>
<div class="c b" style="left:1910.0px;top:887.8px;width:132.5px;height:93.9px"><div><span class="t" style="transform:scaleX(0.7011)">7-14</span></div></div>
<div class="c b" style="left:2044.5px;top:887.8px;width:107.5px;height:93.9px"><div><span class="t" style="transform:scaleX(0.7184)">Vigna del</span><span class="t" style="transform:scaleX(0.7240)">Bradyrhizo-</span><span class="t" style="transform:scaleX(0.7127)">bium</span></div></div>
<div class="c b" style="left:2154.0px;top:887.8px;width:124.0px;height:93.9px"><div><span class="t" style="transform:scaleX(0.7351)">Alto durante</span><span class="t" style="transform:scaleX(0.7349)">etapa inicial</span></div></div>
<div class="c b" style="left:14.0px;top:983.7px;width:150.8px;height:93.9px"><div><span class="t" style="transform:scaleX(0.6976)">MUCUNA pruriens</span></div></div>
<div class="c b" style="left:166.8px;top:983.7px;width:60.9px;height:93.9px"><div><span class="t" style="transform:scaleX(0.6976)">9b-11</span></div></div>
<div class="c b" style="left:229.7px;top:983.7px;width:72.2px;height:93.9px"><div><span class="t" style="transform:scaleX(0.7414)">5.5-6.5</span></div></div>
<div class="c b" style="left:303.9px;top:983.7px;width:84.0px;height:93.9px"><div><span class="t" style="transform:scaleX(0.7122)">arenoso</span></div></div>
<div class="c b" style="left:389.9px;top:983.7px;width:126.5px;height:93.9px"><div><span class="t" style="transform:scaleX(0.7165)">30</span></div></div>
<div class="c b" style="left:518.4px;top:983.7px;width:97.7px;height:93.9px"><div><span class="t" style="transform:scaleX(0.6890)">150</span></div></div>
<div class="c b" style="left:618.1px;top:983.7px;width:103.3px;height:93.9px"><div><span class="t" style="transform:scaleX(0.7564)">4.9</span></div></div>
<div class="c b" style="left:723.4px;top:983.7px;width:105.3px;height:93.9px"><div><span class="t" style="transform:scaleX(0.7183)">Alto</span></div></div>
<div class="c b" style="left:830.7px;top:983.7px;width:106.0px;height:93.9px"><div><span class="t" style="transform:scaleX(0.7183)">Alto</span></div></div>
<div class="c b" style="left:938.7px;top:983.7px;width:87.3px;height:93.9px"><div><span class="t" style="transform:scaleX(0.6054)">Si</span></div></div>
<div class="c b" style="left:1028.0px;top:983.7px;width:115.7px;height:93.9px"><div><span class="t" style="transform:scaleX(0.7364)">Medicinal</span></div></div>
<div class="c b" style="left:1145.7px;top:983.7px;width:109.3px;height:93.9px"><div><span class="t" style="transform:scaleX(0.6054)">Si</span></div></div>
<div class="c b" style="left:1257.0px;top:983.7px;width:122.0px;height:93.9px"><div><span class="t" style="transform:scaleX(0.6847)">Reduce</span></div></div>
<div class="c b" style="left:1381.0px;top:983.7px;width:86.9px;height:93.9px"><div><span class="t" style="transform:scaleX(0.6959)">1.5 cm</span></div></div>
<div class="c b" style="left:1469.9px;top:983.7px;width:95.3px;height:93.9px"><div><span class="t" style="transform:scaleX(0.6708)">MS</span></div></div>
<div class="c b" style="left:1567.2px;top:983.7px;width:126.6px;height:93.9px"><div><span class="t" style="transform:scaleX(0.7139)">Nematodos</span></div></div>
<div class="c b" style="left:1695.8px;top:983.7px;width:90.9px;height:93.9px"><div><span class="t" style="transform:scaleX(0.7110)">Positivo</span></div></div>
<div class="c b" style="left:1788.7px;top:983.7px;width:119.3px;height:93.9px"><div><span class="t" style="transform:scaleX(0.6996)">70</span></div></div>
<div class="c b" style="left:1910.0px;top:983.7px;width:132.5px;height:93.9px"><div><span class="t" style="transform:scaleX(0.7105)">3-14</span></div></div>
<div class="c b" style="left:2044.5px;top:983.7px;width:107.5px;height:93.9px"><div><span class="t" style="transform:scaleX(0.6841)">Caupí</span></div></div>
<div class="c b" style="left:2154.0px;top:983.7px;width:124.0px;height:93.9px"><div><span class="t" style="transform:scaleX(0.7351)">Alto durante</span><span class="t" style="transform:scaleX(0.7349)">etapa inicial</span></div></div>
<div class="c b" style="left:14.0px;top:1079.5px;width:150.8px;height:93.9px"><div><span class="t" style="transform:scaleX(0.6426)">PHASEOLUS</span><span class="t" style="transform:scaleX(0.6913)">coccineus</span></div></div>
<div class="c b" style="left:166.8px;top:1079.5px;width:60.9px;height:93.9px"><div><span class="t" style="transform:scaleX(0.6574)">7-11</span></div></div>
<div class="c b" style="left:229.7px;top:1079.5px;width:72.2px;height:93.9px"><div><span class="t" style="transform:scaleX(0.7323)">6.6-7.5</span></div></div>
<div class="c b" style="left:303.9px;top:1079.5px;width:84.0px;height:93.9px"><div><span class="t" style="transform:scaleX(0.6983)">todos</span></div></div>
<div class="c b" style="left:389.9px;top:1079.5px;width:126.5px;height:93.9px"><div><span class="t" style="transform:scaleX(0.6890)">150</span></div></div>
<div class="c b" style="left:518.4px;top:1079.5px;width:97.7px;height:93.9px"><div><span class="t" style="transform:scaleX(0.6869)">125</span></div></div>
<div class="c b" style="left:618.1px;top:1079.5px;width:103.3px;height:93.9px"><div><span class="t" style="transform:scaleX(0.7258)">6.99</span></div></div>
<div class="c b" style="left:723.4px;top:1079.5px;width:105.3px;height:93.9px"><div><span class="t" style="transform:scaleX(0.7183)">Alto</span></div></div>
<div class="c b" style="left:830.7px;top:1079.5px;width:106.0px;height:93.9px"><div><span class="t" style="transform:scaleX(0.7026)">Bajo</span></div></div>
<div class="c b" style="left:938.7px;top:1079.5px;width:87.3px;height:93.9px"><div><span class="t" style="transform:scaleX(0.6488)">No</span></div></div>
<div class="c b" style="left:1028.0px;top:1079.5px;width:115.7px;height:93.9px"><div><span class="t" style="transform:scaleX(0.6975)">Comida y</span><span class="t" style="transform:scaleX(0.7441)">Ornamental</span></div></div>
<div class="c b" style="left:1145.7px;top:1079.5px;width:109.3px;height:93.9px"><div><span class="t" style="transform:scaleX(0.6054)">Si</span></div></div>
<div class="c b" style="left:1257.0px;top:1079.5px;width:122.0px;height:93.9px"><div><span class="t" style="transform:scaleX(0.6847)">Reduce</span></div></div>
<div class="c b" style="left:1381.0px;top:1079.5px;width:86.9px;height:93.9px"><div><span class="t" style="transform:scaleX(0.6952)">2 cm</span></div></div>
<div class="c b" style="left:1469.9px;top:1079.5px;width:95.3px;height:93.9px"><div><span class="t" style="transform:scaleX(0.6708)">MS</span></div></div>
<div class="c b" style="left:1567.2px;top:1079.5px;width:126.6px;height:93.9px"><div><span class="t" style="transform:scaleX(0.7227)">Polinizadores</span></div></div>
<div class="c b" style="left:1695.8px;top:1079.5px;width:90.9px;height:93.9px"><div><span class="t" style="transform:scaleX(0.7110)">Positivo</span></div></div>
<div class="c b" style="left:1788.7px;top:1079.5px;width:119.3px;height:93.9px"><div><span class="t" style="transform:scaleX(0.7349)">94</span></div></div>
<div class="c b" style="left:1910.0px;top:1079.5px;width:132.5px;height:93.9px"><div><span class="t" style="transform:scaleX(0.6751)">7</span></div></div>
<div class="c b" style="left:2044.5px;top:1079.5px;width:107.5px;height:93.9px"><div><span class="t" style="transform:scaleX(0.7147)">Frijol común</span></div></div>
<div class="c b" style="left:2154.0px;top:1079.5px;width:124.0px;height:93.9px"><div><span class="t" style="transform:scaleX(0.7402)">Medio durante</span><span class="t" style="transform:scaleX(0.7580)">etapa inter-</span><span class="t" style="transform:scaleX(0.7277)">media</span></div></div>
<div class="c b" style="left:14.0px;top:1175.4px;width:150.8px;height:93.8px"><div><span class="t" style="transform:scaleX(0.6353)">STYLOSANTHES</span><span class="t" style="transform:scaleX(0.7056)">guayanensis</span></div></div>
<div class="c b" style="left:166.8px;top:1175.4px;width:60.9px;height:93.8px"><div><span class="t" style="transform:scaleX(0.6858)">8-1</span></div></div>
<div class="c b" style="left:229.7px;top:1175.4px;width:72.2px;height:93.8px"><div><span class="t" style="transform:scaleX(0.7712)">4.0-8.3</span></div></div>
<div class="c b" style="left:303.9px;top:1175.4px;width:84.0px;height:93.8px"><div><span class="t" style="transform:scaleX(0.7267)">franco</span><span class="t" style="transform:scaleX(0.7122)">arenoso</span></div></div>
<div class="c b" style="left:389.9px;top:1175.4px;width:126.5px;height:93.8px"><div><span class="t" style="transform:scaleX(0.7090)">3</span></div></div>
<div class="c b" style="left:518.4px;top:1175.4px;width:97.7px;height:93.8px"><div><span class="t" style="transform:scaleX(0.7075)">100</span></div></div>
<div class="c b" style="left:618.1px;top:1175.4px;width:103.3px;height:93.8px"><div><span class="t" style="transform:scaleX(0.6883)">15.61</span></div></div>
<div class="c b" style="left:723.4px;top:1175.4px;width:105.3px;height:93.8px"><div><span class="t" style="transform:scaleX(0.7240)">Medio</span></div></div>
<div class="c b" style="left:830.7px;top:1175.4px;width:106.0px;height:93.8px"><div><span class="t" style="transform:scaleX(0.7183)">Alto</span></div></div>
<div class="c b" style="left:938.7px;top:1175.4px;width:87.3px;height:93.8px"><div><span class="t" style="transform:scaleX(0.6054)">Si</span></div></div>
<div class="c b" style="left:1028.0px;top:1175.4px;width:115.7px;height:93.8px"><div><span class="t" style="transform:scaleX(0.6488)">No</span></div></div>
<div class="c b" style="left:1145.7px;top:1175.4px;width:109.3px;height:93.8px"><div><span class="t" style="transform:scaleX(0.6054)">Si</span></div></div>
<div class="c b" style="left:1257.0px;top:1175.4px;width:122.0px;height:93.8px"><div><span class="t" style="transform:scaleX(0.6847)">Reduce</span></div></div>
<div class="c b" style="left:1381.0px;top:1175.4px;width:86.9px;height:93.8px"><div><span class="t" style="transform:scaleX(0.7135)">0.2 cm</span></div></div>
<div class="c b" style="left:1469.9px;top:1175.4px;width:95.3px;height:93.8px"><div><span class="t" style="transform:scaleX(0.5403)">S</span></div></div>
<div class="c b" style="left:1567.2px;top:1175.4px;width:126.6px;height:93.8px"><div><span class="t" style="transform:scaleX(0.7253)">Repelente de</span><span class="t" style="transform:scaleX(0.7562)">termitas</span></div></div>
<div class="c b" style="left:1695.8px;top:1175.4px;width:90.9px;height:93.8px"><div><span class="t" style="transform:scaleX(0.7110)">Positivo</span></div></div>
<div class="c b" style="left:1788.7px;top:1175.4px;width:119.3px;height:93.8px"><div><span class="t" style="transform:scaleX(0.7129)">90</span></div></div>
<div class="c b" style="left:1910.0px;top:1175.4px;width:132.5px;height:93.8px"><div><span class="t" style="transform:scaleX(0.7274)">2-5</span></div></div>
<div class="c b" style="left:2044.5px;top:1175.4px;width:107.5px;height:93.8px"><div><span class="t" style="transform:scaleX(0.6841)">Caupí</span></div></div>
<div class="c b" style="left:2154.0px;top:1175.4px;width:124.0px;height:93.8px"><div><span class="t" style="transform:scaleX(0.7402)">Medio durante</span><span class="t" style="transform:scaleX(0.7580)">etapa inter-</span><span class="t" style="transform:scaleX(0.7277)">media</span></div></div>
<div class="c b" style="left:14.0px;top:1271.2px;width:150.8px;height:93.8px"><div><span class="t" style="transform:scaleX(0.7140)">VIGNA radiata</span></div></div>
<div class="c b" style="left:166.8px;top:1271.2px;width:60.9px;height:93.8px"><div><span class="t" style="transform:scaleX(0.6574)">7-11</span></div></div>
<div class="c b" style="left:229.7px;top:1271.2px;width:72.2px;height:93.8px"><div><span class="t" style="transform:scaleX(0.7350)">6.2-7.2</span></div></div>
<div class="c b" style="left:303.9px;top:1271.2px;width:84.0px;height:93.8px"><div><span class="t" style="transform:scaleX(0.7267)">franco</span><span class="t" style="transform:scaleX(0.7122)">arenoso</span></div></div>
<div class="c b" style="left:389.9px;top:1271.2px;width:126.5px;height:93.8px"><div><span class="t" style="transform:scaleX(0.6716)">15</span></div></div>
<div class="c b" style="left:518.4px;top:1271.2px;width:97.7px;height:93.8px"><div><span class="t" style="transform:scaleX(0.7383)">80</span></div></div>
<div class="c b" style="left:618.1px;top:1271.2px;width:103.3px;height:93.8px"><div><span class="t" style="transform:scaleX(0.7055)">1.65</span></div></div>
<div class="c b" style="left:723.4px;top:1271.2px;width:105.3px;height:93.8px"><div><span class="t" style="transform:scaleX(0.7183)">Alto</span></div></div>
<div class="c b" style="left:830.7px;top:1271.2px;width:106.0px;height:93.8px"><div><span class="t" style="transform:scaleX(0.7026)">Bajo</span></div></div>
<div class="c b" style="left:938.7px;top:1271.2px;width:87.3px;height:93.8px"><div><span class="t" style="transform:scaleX(0.6054)">Si</span></div></div>
<div class="c b" style="left:1028.0px;top:1271.2px;width:115.7px;height:93.8px"><div><span class="t" style="transform:scaleX(0.7001)">Comida</span></div></div>
<div class="c b" style="left:1145.7px;top:1271.2px;width:109.3px;height:93.8px"><div><span class="t" style="transform:scaleX(0.6054)">Si</span></div></div>
<div class="c b" style="left:1257.0px;top:1271.2px;width:122.0px;height:93.8px"><div><span class="t" style="transform:scaleX(0.6847)">Reduce</span></div></div>
<div class="c b" style="left:1381.0px;top:1271.2px;width:86.9px;height:93.8px"><div><span class="t" style="transform:scaleX(0.7284)">0.3 mm</span></div></div>
<div class="c b" style="left:1469.9px;top:1271.2px;width:95.3px;height:93.8px"><div><span class="t" style="transform:scaleX(0.5403)">S</span></div></div>
<div class="c b" style="left:1567.2px;top:1271.2px;width:126.6px;height:93.8px"><div><span class="t" style="transform:scaleX(0.7246)">Parasitoides</span></div></div>
<div class="c b" style="left:1695.8px;top:1271.2px;width:90.9px;height:93.8px"><div><span class="t" style="transform:scaleX(0.7110)">Positivo</span></div></div>
<div class="c b" style="left:1788.7px;top:1271.2px;width:119.3px;height:93.8px"><div><span class="t" style="transform:scaleX(0.7112)">95</span></div></div>
<div class="c b" style="left:1910.0px;top:1271.2px;width:132.5px;height:93.8px"><div><span class="t" style="transform:scaleX(0.7110)">5-7</span></div></div>
<div class="c b" style="left:2044.5px;top:1271.2px;width:107.5px;height:93.8px"><div><span class="t" style="transform:scaleX(0.6841)">Caupí</span></div></div>
<div class="c b" style="left:2154.0px;top:1271.2px;width:124.0px;height:93.8px"><div><span class="t" style="transform:scaleX(0.7351)">Alto durante</span><span class="t" style="transform:scaleX(0.7349)">etapa inicial</span></div></div>
</body></html>
